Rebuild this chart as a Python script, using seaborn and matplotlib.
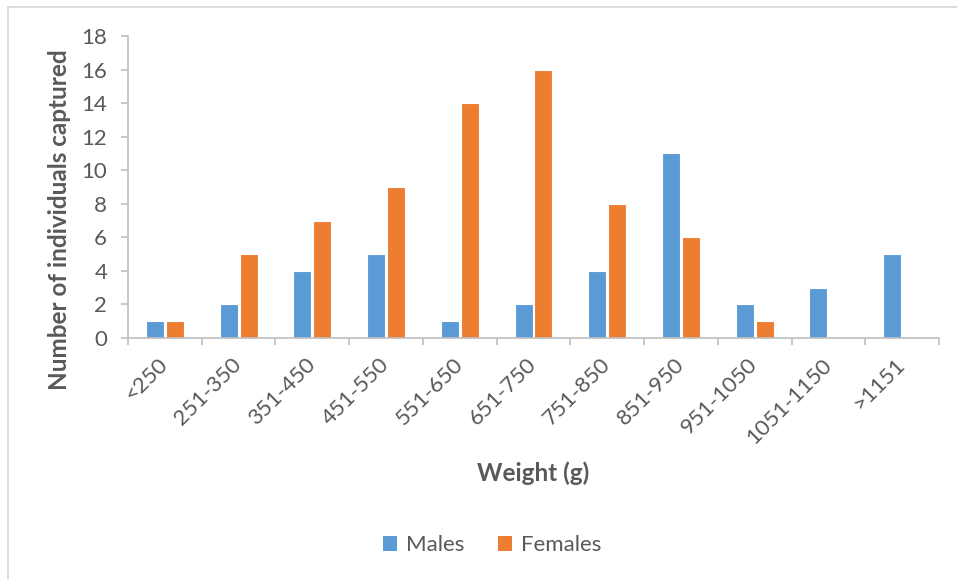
import matplotlib
matplotlib.use("Agg")
import matplotlib.pyplot as plt
from matplotlib.lines import Line2D
from matplotlib.patches import Patch
from matplotlib.transforms import ScaledTranslation
import seaborn as sns
import pandas as pd

weight_classes = ["<250", "251-350", "351-450", "451-550", "551-650", "651-750",
                  "751-850", "851-950", "951-1050", "1051-1150", ">1151"]
males = [1, 2, 4, 5, 1, 2, 4, 11, 2, 3, 5]
females = [1, 5, 7, 9, 14, 16, 8, 6, 1, 0, 0]
y_ticks = [0, 2, 4, 6, 8, 10, 12, 14, 16, 18]

MALE_C = "#5B9BD5"
FEMALE_C = "#ED7D31"
TEXT_C = "#595959"
AXIS_C = "#BFBFBF"

df = pd.DataFrame({
    "Weight": weight_classes * 2,
    "Count": males + females,
    "Sex": ["Males"] * len(males) + ["Females"] * len(females),
})

sns.set_theme(style="white")
plt.rcParams["font.family"] = ["Lato", "DejaVu Sans"]

W, H = 957, 579
fig = plt.figure(figsize=(W / 100, H / 100), dpi=100)
ax = fig.add_axes([128 / W, 1 - 338 / H, (939 - 128) / W, (338 - 36) / H])

sns.barplot(data=df, x="Weight", y="Count", hue="Sex", order=weight_classes,
            hue_order=["Males", "Females"], palette=[MALE_C, FEMALE_C],
            saturation=1, width=0.54, gap=0.1, edgecolor="white",
            linewidth=0.8, legend=False, ax=ax)

ax.set_xlim(-0.5, len(weight_classes) - 0.5)
ax.set_ylim(0, 18)
ax.set_yticks(y_ticks)
ax.set_yticklabels([str(t) for t in y_ticks])

# Category labels rotated 45 degrees; tick marks sit on category boundaries
ax.set_xticks(range(len(weight_classes)))
ax.set_xticklabels(weight_classes, rotation=45, ha="right", va="center",
                   rotation_mode="anchor")
shift = ScaledTranslation(4 / 100, 0, fig.dpi_scale_trans)
for lbl in ax.get_xticklabels():
    lbl.set_transform(lbl.get_transform() + shift)
ax.set_xticks([i - 0.5 for i in range(len(weight_classes) + 1)], minor=True)
ax.tick_params(axis="x", which="major", length=0, pad=17, labelsize=16,
               labelcolor=TEXT_C)
ax.tick_params(axis="x", which="minor", length=5, width=1.2, color=AXIS_C,
               direction="out", bottom=True)
ax.tick_params(axis="y", length=5, width=1.2, color=AXIS_C, direction="out",
               left=True, pad=10, labelsize=16, labelcolor=TEXT_C)

for side in ["top", "right"]:
    ax.spines[side].set_visible(False)
for side in ["left", "bottom"]:
    ax.spines[side].set_color(AXIS_C)
    ax.spines[side].set_linewidth(1.2)

ax.set_xlabel("")
ax.set_ylabel("")
ax.grid(False)

fig.text(60 / W, 1 - 220 / H, "Number of individuals captured", rotation=90,
         ha="center", va="center", fontsize=17.5, fontweight="bold", color=TEXT_C)
fig.text(533 / W, 1 - 473 / H, "Weight (g)", ha="center", va="center",
         fontsize=17.5, fontweight="bold", color=TEXT_C)

handles = [Patch(facecolor=MALE_C, edgecolor="none", label="Males"),
           Patch(facecolor=FEMALE_C, edgecolor="none", label="Females")]
fig.legend(handles=handles, loc="center", bbox_to_anchor=(492 / W, 1 - 545 / H),
           ncol=2, frameon=False, fontsize=16, labelcolor=TEXT_C,
           handlelength=0.65, handleheight=0.65, handletextpad=0.4,
           columnspacing=1.5)

# Chart-area frame lines along the top and left
fig.add_artist(Line2D([8 / W, 1], [1 - 7 / H, 1 - 7 / H], color="#D9D9D9",
                      lw=1.3, transform=fig.transFigure))
fig.add_artist(Line2D([8 / W, 8 / W], [0, 1 - 7 / H], color="#D9D9D9",
                      lw=1.3, transform=fig.transFigure))

fig.savefig("out.png", dpi=100, facecolor="white")
